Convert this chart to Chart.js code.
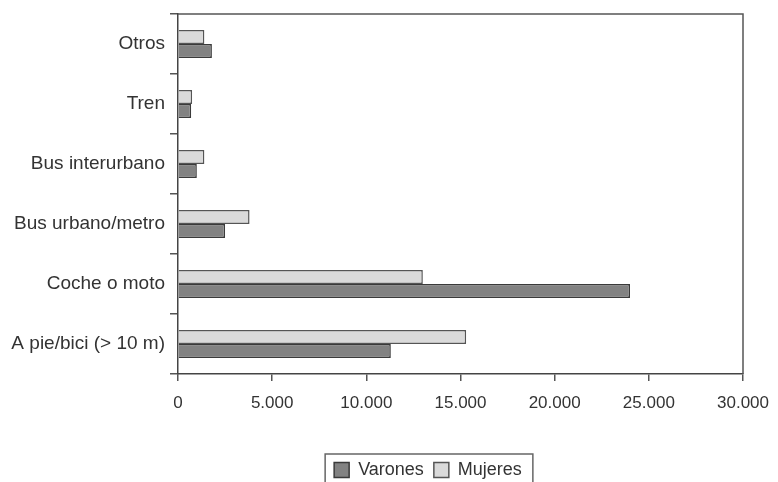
<!DOCTYPE html>
<html>
<head>
<meta charset="utf-8">
<script src="https://cdn.jsdelivr.net/npm/chart.js@4"></script>
<style>
html,body{margin:0;padding:0;background:#fff;}
#wrap{width:778px;height:482px;}
</style>
</head>
<body>
<div id="wrap"><canvas id="c" width="778" height="482"></canvas></div>
<script>
const categories = ["Otros", "Tren", "Bus interurbano", "Bus urbano/metro", "Coche o moto", "A pie/bici (> 10 m)"];
const varones = [1800, 700, 1000, 2500, 24000, 11300];
const mujeres = [1400, 750, 1400, 3800, 13000, 15300];
const xTicks = [0, 5000, 10000, 15000, 20000, 25000, 30000];

const fmt = v => v === 0 ? "0" : v.toLocaleString("de-DE");

const framePlugin = {
  id: "frame",
  afterLayout(chart) {
    const lg = chart.legend;
    if (lg) {
      const shift = 428 - (lg.left + lg.right) / 2;
      lg.left += shift;
      lg.right += shift;
    }
  },
  afterDraw(chart) {
    const {ctx, chartArea: a} = chart;
    ctx.save();
    ctx.strokeStyle = "#555";
    ctx.lineWidth = 1.5;
    ctx.beginPath();
    ctx.moveTo(a.left, a.top);
    ctx.lineTo(a.right, a.top);
    ctx.lineTo(a.right, a.bottom);
    ctx.stroke();
    const lg = chart.legend;
    if (lg && lg.legendHitBoxes && lg.legendHitBoxes.length) {
      let l = Infinity, r = -Infinity, t = Infinity;
      lg.legendHitBoxes.forEach(h => { l = Math.min(l, h.left); r = Math.max(r, h.left + h.width); t = Math.min(t, h.top); });
      ctx.strokeStyle = "#666";
      ctx.lineWidth = 1.5;
      ctx.strokeRect(l - 9, t - 7, (r - l) + 20, 40);
    }
    ctx.restore();
  }
};

new Chart(document.getElementById("c"), {
  type: "bar",
  data: {
    labels: categories,
    datasets: [
      {label: "Mujeres", data: mujeres, backgroundColor: "#dadada", borderColor: "#555", borderWidth: 1.5, categoryPercentage: 0.47, barPercentage: 1.0},
      {label: "Varones", data: varones, backgroundColor: "#828282", borderColor: "#3a3a3a", borderWidth: 1.5, categoryPercentage: 0.47, barPercentage: 1.0}
    ]
  },
  options: {
    indexAxis: "y",
    responsive: false,
    animation: false,
    layout: {padding: {top: 14, right: 35, left: 0, bottom: -7}},
    scales: {
      x: {
        min: 0, max: 30000,
        afterBuildTicks: s => { s.ticks = xTicks.map(v => ({value: v})); },
        ticks: {callback: v => fmt(v), color: "#333", font: {family: "Liberation Sans, Arial, sans-serif", size: 17}, padding: 12, maxRotation: 0},
        grid: {drawOnChartArea: false, tickLength: 7, color: "#555", lineWidth: 1.5},
        border: {color: "#444", width: 1.5},
        afterFit: s => { s.height = 77; s.paddingLeft = 0; s.paddingRight = 0; }
      },
      y: {
        ticks: {color: "#333", font: {family: "Liberation Sans, Arial, sans-serif", size: 19}, padding: 5},
        grid: {drawOnChartArea: false, tickLength: 8, color: "#555", lineWidth: 1.5, offset: true},
        border: {color: "#444", width: 1.5},
        afterFit: s => { s.width = 178; s.paddingTop = 0; s.paddingBottom = 0; }
      }
    },
    plugins: {
      legend: {
        position: "bottom",
        reverse: true,
        labels: {color: "#333", font: {family: "Liberation Sans, Arial, sans-serif", size: 18}, boxWidth: 15, boxHeight: 15, padding: 10}
      },
      tooltip: {enabled: false}
    }
  },
  plugins: [framePlugin]
});
</script>
</body>
</html>
